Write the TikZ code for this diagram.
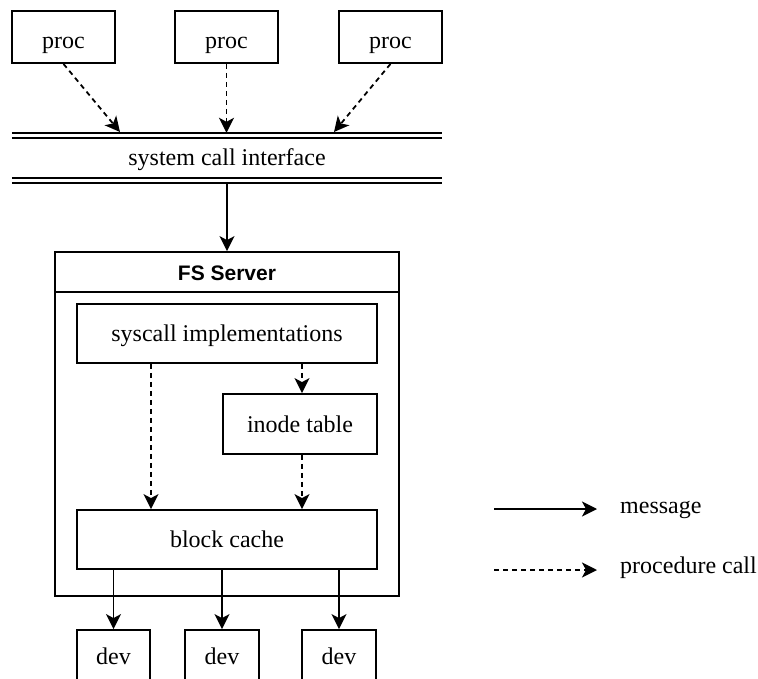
\documentclass[tikz,border=0pt]{standalone}
\usepackage{fontspec}
\setmainfont{Liberation Serif}
\newfontfamily\titlefont{Liberation Sans}
\usetikzlibrary{arrows.meta}
\tikzset{
  box/.style={draw, line width=1.8pt, inner sep=0pt, text height=16.6pt, text depth=0pt, font=\fontsize{24}{28}\selectfont},
  lbl/.style={inner sep=0pt, font=\fontsize{24}{28}\selectfont},
  msg/.style={line width=1.8pt, -{Stealth[length=15pt,width=15pt,inset=4pt]}},
  pcall/.style={msg, dash pattern=on 5pt off 4pt},
  dline/.style={line width=2pt},
}
\begin{document}
\begin{tikzpicture}[x=1pt,y=-1pt]
\useasboundingbox (0,0) rectangle (758,679);
\clip (0,0) rectangle (758,679);
% processes
\node[box, text height=22.6pt, minimum width=103pt, minimum height=52pt] (p1) at (63.5,37) {proc};
\node[box, text height=22.6pt, minimum width=103pt, minimum height=52pt] (p2) at (226.5,37) {proc};
\node[box, text height=22.6pt, minimum width=103pt, minimum height=52pt] (p3) at (390.5,37) {proc};
% system call interface
\node[lbl, text height=15.8pt, text depth=0pt, minimum width=430pt, minimum height=50pt] (sci) at (227,158) {system call interface};
\draw[dline] (sci.north west) -- (sci.north east);
\draw[dline] ([yshift=-5.3pt]sci.north west) -- ([yshift=-5.3pt]sci.north east);
\draw[dline] (sci.south west) -- (sci.south east);
\draw[dline] ([yshift=5.3pt]sci.south west) -- ([yshift=5.3pt]sci.south east);
\coordinate (t1) at (120,132);
\coordinate (t3) at (334,132);
\draw[pcall] (p1.south) -- (t1);
\draw[pcall] (p2.south) -- (p2.south |- sci.north);
\draw[pcall] (p3.south) -- (t3);
% FS server
\node[box, minimum width=344pt, minimum height=344pt] (fs) at (227,424) {};
\node[box, minimum width=344pt, minimum height=40pt, font=\titlefont\bfseries\fontsize{21}{25}\selectfont] (fst) at (227,272) {FS Server};
\draw[msg] (sci.south) -- (fst.north);
\node[box, minimum width=300pt, minimum height=59pt] (sys) at (227,333.5) {syscall implementations};
\node[box, minimum width=154pt, minimum height=60pt] (ino) at (300,424) {inode table};
\node[box, minimum width=300pt, minimum height=59pt] (blk) at (227,539.5) {block cache};
\draw[pcall] ([xshift=-76pt]sys.south) -- ([xshift=-76pt]blk.north);
\draw[pcall] ([xshift=2pt]ino.north |- sys.south) -- ([xshift=2pt]ino.north);
\draw[pcall] ([xshift=2pt]ino.south) -- ([xshift=2pt]ino.south |- blk.north);
% devices
\node[box, minimum width=73pt, minimum height=52pt] (d1) at (113.5,656) {dev};
\node[box, minimum width=74pt, minimum height=52pt] (d2) at (222,656) {dev};
\node[box, minimum width=74pt, minimum height=52pt] (d3) at (339,656) {dev};
\draw[msg] (d1.north |- blk.south) -- (d1.north);
\draw[msg] (d2.north |- blk.south) -- (d2.north);
\draw[msg] (d3.north |- blk.south) -- (d3.north);
% legend
\coordinate (m1) at (494,509);
\coordinate (m2) at (597,509);
\coordinate (c1) at (494,570);
\coordinate (c2) at (597,570);
\draw[msg] (m1) -- (m2);
\draw[pcall] (c1) -- (c2);
\node[lbl, anchor=base west] (lm) at (620,513.5) {message};
\node[lbl, anchor=base west] (lc) at (620,573.5) {procedure call};
\end{tikzpicture}
\end{document}
